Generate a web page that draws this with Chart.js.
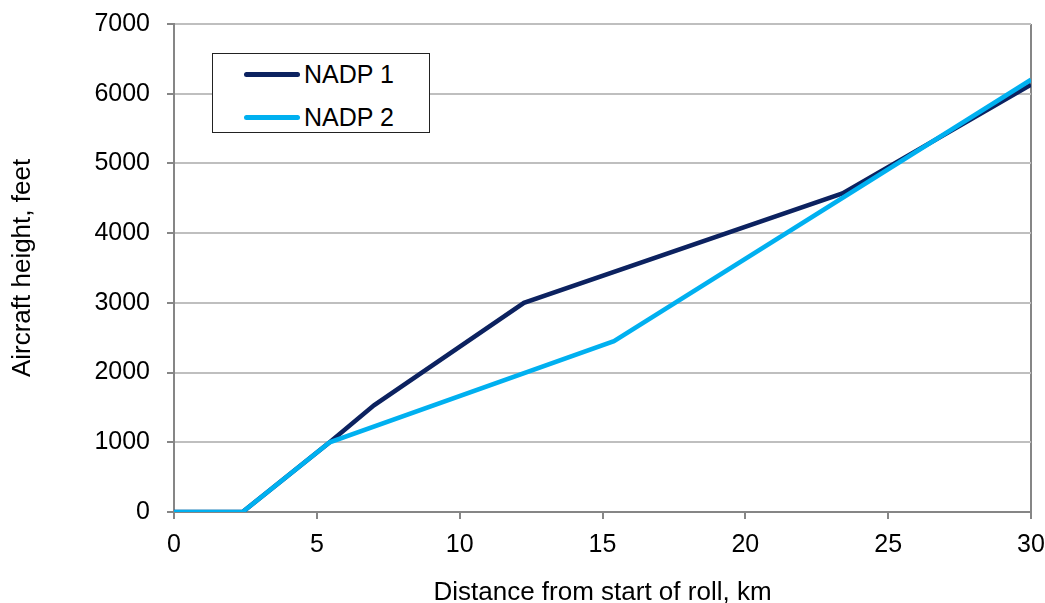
<!DOCTYPE html>
<html>
<head>
<meta charset="utf-8">
<script src="https://cdn.jsdelivr.net/npm/chart.js@4"></script>
<style>
  html, body { margin: 0; padding: 0; background: #fff; }
  #wrap { position: relative; width: 1045px; height: 603px; }
  #legend {
    position: absolute; left: 212px; top: 53px; width: 216px; height: 78px;
    border: 1px solid #222; background: #fff;
    font-family: "Liberation Sans", Arial, sans-serif; font-size: 25px; color: #000;
  }
  .row { position: absolute; left: 31px; height: 30px; display: flex; align-items: center; }
  .swatch { width: 56px; height: 5px; border-radius: 2.5px; margin-right: 4px; }
</style>
</head>
<body>
<div id="wrap">
  <canvas id="chart" width="1045" height="603"></canvas>
  <div id="legend"></div>
</div>
<script>
// distance from start of roll (km) and height (ft)
const nadp1Km = [0, 2.4, 5.45, 7.0, 12.25, 23.4, 30];
const nadp1Ft = [0, 0, 1000, 1530, 3000, 4570, 6130];
const nadp2Km = [0, 2.4, 5.45, 15.4, 30];
const nadp2Ft = [0, 0, 1000, 2450, 6200];

const seriesNames = ['NADP 1', 'NADP 2'];
const seriesColors = ['#0c2260', '#00b0f0'];

const xTicks = [0, 5, 10, 15, 20, 25, 30];
const yTicks = [0, 1000, 2000, 3000, 4000, 5000, 6000, 7000];

const toPoints = (xs, ys) => xs.map((x, i) => ({ x: x, y: ys[i] }));

const font = { family: '"Liberation Sans", Arial, sans-serif', size: 25 };
const titleFont = { family: '"Liberation Sans", Arial, sans-serif', size: 26, lineHeight: 1 };

new Chart(document.getElementById('chart'), {
    type: 'scatter',
    data: {
        datasets: [
            {
                label: seriesNames[0],
                data: toPoints(nadp1Km, nadp1Ft),
                borderColor: seriesColors[0],
                backgroundColor: seriesColors[0],
                showLine: true, borderWidth: 4.5, pointRadius: 0, tension: 0,
                order: 1
            },
            {
                label: seriesNames[1],
                data: toPoints(nadp2Km, nadp2Ft),
                borderColor: seriesColors[1],
                backgroundColor: seriesColors[1],
                showLine: true, borderWidth: 4.5, pointRadius: 0, tension: 0,
                order: 0
            }
        ]
    },
    options: {
        responsive: false,
        animation: false,
        layout: { padding: { left: 0, right: 14, top: 24, bottom: 0 } },
        plugins: { legend: { display: false }, tooltip: { enabled: false } },
        scales: {
            x: {
                type: 'linear', min: 0, max: 30,
                afterBuildTicks: s => { s.ticks = xTicks.map(v => ({ value: v })); },
                afterFit: s => { s.height = 91; s.paddingLeft = 0; s.paddingRight = 0; },
                ticks: { color: '#000', font: font, padding: 11, maxRotation: 0 },
                grid: {
                    color: c => (c.tick && c.tick.value === 30 ? '#868686' : 'rgba(0,0,0,0)'),
                    lineWidth: 2,
                    tickColor: '#868686', tickLength: 7, drawTicks: true
                },
                border: { color: '#868686', width: 2 },
                title: { display: true, text: 'Distance from start of roll, km', color: '#000', font: titleFont, padding: { top: 0, bottom: -3 } }
            },
            y: {
                min: 0, max: 7000,
                afterBuildTicks: s => { s.ticks = yTicks.map(v => ({ value: v })); },
                afterFit: s => { s.width = 174; s.paddingTop = 0; s.paddingBottom = 0; },
                ticks: { color: '#000', font: font, padding: 17, callback: v => String(v) },
                grid: { color: '#bfbfbf', lineWidth: 2, tickColor: '#868686', tickLength: 7 },
                border: { color: '#868686', width: 2 },
                title: { display: true, text: 'Aircraft height, feet', color: '#000', font: titleFont, padding: { top: 10, bottom: 0 } }
            }
        }
    }
});

// legend box inside the plot area
const legend = document.getElementById('legend');
seriesNames.forEach((name, i) => {
    const row = document.createElement('div');
    row.className = 'row';
    row.style.top = (i === 0 ? 5 : 48) + 'px';
    row.innerHTML = '<div class="swatch" style="background:' + seriesColors[i] + '"></div><span>' + name + '</span>';
    legend.appendChild(row);
});
</script>
</body>
</html>
